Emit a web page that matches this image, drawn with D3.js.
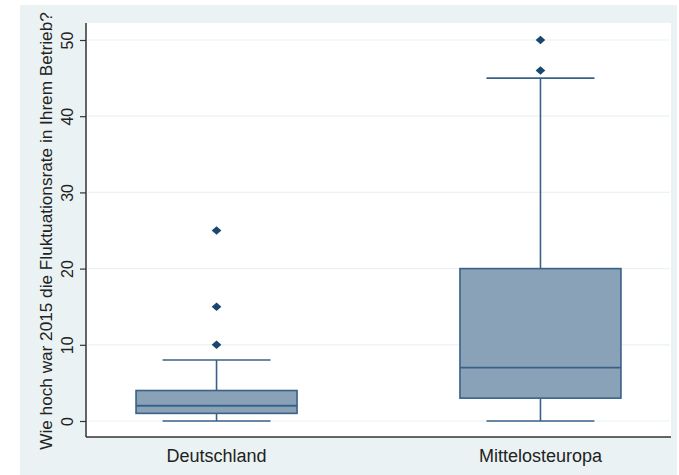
<!DOCTYPE html>
<html>
<head>
<meta charset="utf-8">
<script src="https://cdn.jsdelivr.net/npm/d3@7"></script>
<style>
  html, body { margin: 0; padding: 0; background: #ffffff; }
  svg { display: block; }
</style>
</head>
<body>
<svg id="chart" width="679" height="475"></svg>
<script>
// Box plot: staff turnover rate 2015 by region
const categories = ["Deutschland", "Mittelosteuropa"];
const whiskerLow  = [0, 0];
const quartile1   = [1, 3];
const medians     = [2, 7];
const quartile3   = [4, 20];
const whiskerHigh = [8, 45];
const outliers    = [[10, 15, 25], [46, 50]];
const yTicks      = [0, 10, 20, 30, 40, 50];
const yTitle      = "Wie hoch war 2015 die Fluktuationsrate in Ihrem Betrieb?";

const svg = d3.select("#chart");
const W = 679, H = 475;
const plot = { left: 86, right: 671, top: 23, bottom: 437 };
const font = "'Liberation Sans', Arial, sans-serif";

// outer graph region
svg.append("rect")
  .attr("x", 20).attr("y", 5)
  .attr("width", 657).attr("height", H - 5)
  .attr("fill", "#eaf2f3");

// inner plot region
svg.append("rect")
  .attr("x", plot.left).attr("y", plot.top)
  .attr("width", plot.right - plot.left).attr("height", plot.bottom - plot.top)
  .attr("fill", "#ffffff");

const y = d3.scaleLinear().domain([0, 50]).range([421, 40]);
const x = d3.scalePoint().domain(categories).range([plot.left, plot.right]).padding(0.403);
const boxW = 161, capW = 108;

// gridlines
svg.append("g").selectAll("line").data(yTicks).join("line")
  .attr("x1", plot.left + 2).attr("x2", plot.right - 1)
  .attr("y1", d => y(d)).attr("y2", d => y(d))
  .attr("stroke", "#eaf2f3").attr("stroke-width", 1.2);

// y axis
const yAxis = d3.axisLeft(y).tickValues(yTicks).tickSize(6);
const gy = svg.append("g").attr("transform", `translate(${plot.left},0)`).call(yAxis);
gy.select(".domain").remove();
gy.selectAll(".tick line").attr("stroke", "#333").attr("stroke-width", 1.2);
gy.selectAll(".tick text")
  .attr("x", 0).attr("y", 0).attr("dy", null)
  .attr("transform", "translate(-13,0) rotate(-90)")
  .attr("text-anchor", "middle")
  .style("font-family", font)
  .style("font-size", "16px")
  .attr("fill", "#222");

// axis lines
svg.append("line")
  .attr("x1", plot.left).attr("x2", plot.left)
  .attr("y1", plot.top).attr("y2", plot.bottom)
  .attr("stroke", "#333").attr("stroke-width", 1.5);
svg.append("line")
  .attr("x1", plot.left).attr("x2", plot.right)
  .attr("y1", plot.bottom).attr("y2", plot.bottom)
  .attr("stroke", "#333").attr("stroke-width", 1.5);

// y title
svg.append("text")
  .attr("transform", `translate(52, ${(15 + 447) / 2}) rotate(-90)`)
  .attr("text-anchor", "middle")
  .style("font-family", font)
  .style("font-size", "17.2px")
  .attr("fill", "#222")
  .text(yTitle);

// x category labels
svg.append("g").selectAll("text").data(categories).join("text")
  .attr("x", d => x(d)).attr("y", 462)
  .attr("text-anchor", "middle")
  .style("font-family", font)
  .style("font-size", "18px")
  .attr("fill", "#222")
  .text(d => d);

const stroke = "#3a6088", fill = "#8aa2b7", dot = "#1a476f";

const groups = svg.append("g").selectAll("g").data(categories).join("g");
groups.each(function(c, i) {
  const g = d3.select(this);
  const cx = x(c);
  // whiskers
  g.append("line").attr("x1", cx).attr("x2", cx)
    .attr("y1", y(quartile3[i])).attr("y2", y(whiskerHigh[i]))
    .attr("stroke", stroke).attr("stroke-width", 1.6);
  g.append("line").attr("x1", cx).attr("x2", cx)
    .attr("y1", y(quartile1[i])).attr("y2", y(whiskerLow[i]))
    .attr("stroke", stroke).attr("stroke-width", 1.6);
  [whiskerHigh[i], whiskerLow[i]].forEach(v => {
    g.append("line").attr("x1", cx - capW / 2).attr("x2", cx + capW / 2)
      .attr("y1", y(v)).attr("y2", y(v))
      .attr("stroke", stroke).attr("stroke-width", 1.6);
  });
  // box
  g.append("rect")
    .attr("x", cx - boxW / 2).attr("width", boxW)
    .attr("y", y(quartile3[i])).attr("height", y(quartile1[i]) - y(quartile3[i]))
    .attr("fill", fill).attr("stroke", stroke).attr("stroke-width", 1.6);
  // median
  g.append("line").attr("x1", cx - boxW / 2).attr("x2", cx + boxW / 2)
    .attr("y1", y(medians[i])).attr("y2", y(medians[i]))
    .attr("stroke", stroke).attr("stroke-width", 1.8);
  // outside values
  g.selectAll("path.out").data(outliers[i]).join("path")
    .attr("class", "out")
    .attr("d", d3.symbol(d3.symbolDiamond2, 54))
    .attr("transform", d => `translate(${cx},${y(d)}) scale(1.05,0.92)`)
    .attr("fill", dot);
});
</script>
</body>
</html>
